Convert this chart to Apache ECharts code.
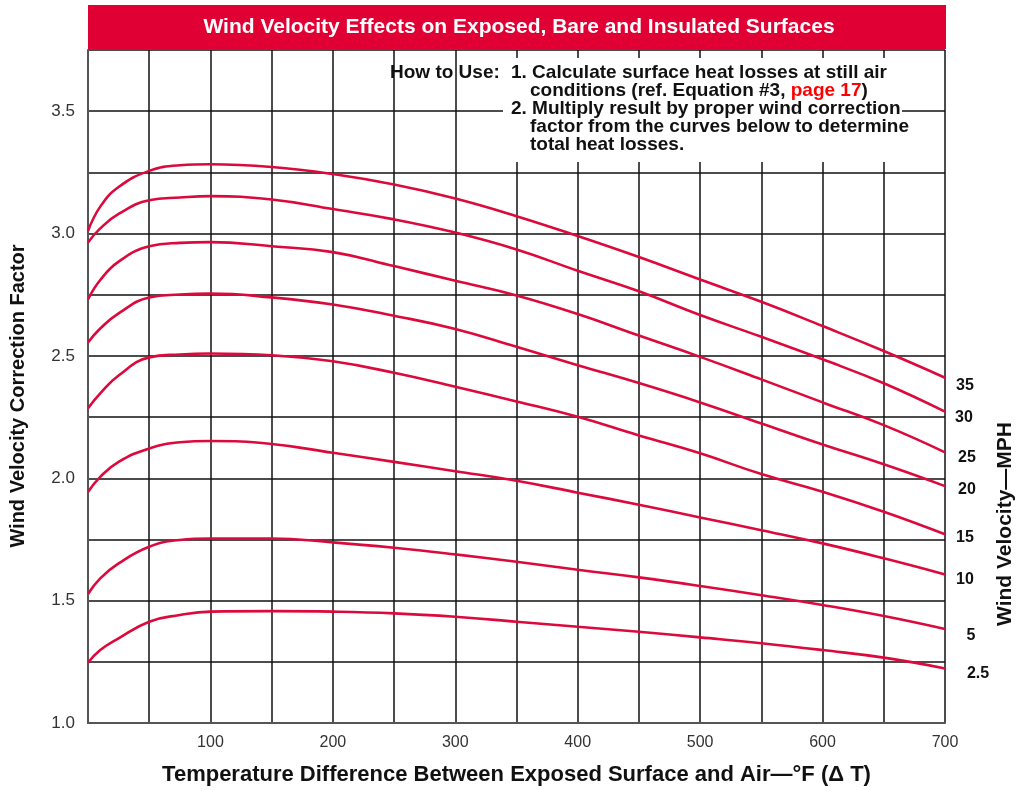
<!DOCTYPE html>
<html>
<head>
<meta charset="utf-8">
<script src="https://cdn.jsdelivr.net/npm/echarts@6/dist/echarts.min.js"></script>
<style>
html,body{margin:0;padding:0;background:#fff;}
#chart{width:1031px;height:791px;}
</style>
</head>
<body>
<div id="chart"></div>
<script>
// Temperature difference (°F) sample points
var deltaT = [0, 10, 25, 50, 75, 100, 150, 200, 250, 300, 350, 400, 450, 500, 550, 600, 650, 700];
// Wind velocity labels (MPH)
var windLabels = ['35', '30', '25', '20', '15', '10', '5', '2.5'];
// Correction factor per wind velocity
var mph35  = [3.01, 3.11, 3.19, 3.256, 3.279, 3.283, 3.272, 3.243, 3.20, 3.143, 3.071, 2.99, 2.904, 2.812, 2.721, 2.622, 2.52, 2.411];
var mph30  = [2.963, 3.021, 3.08, 3.136, 3.147, 3.153, 3.139, 3.10, 3.058, 3.004, 2.935, 2.848, 2.764, 2.667, 2.578, 2.486, 2.388, 2.272];
var mph25  = [2.731, 2.81, 2.885, 2.948, 2.962, 2.965, 2.948, 2.924, 2.867, 2.807, 2.747, 2.671, 2.583, 2.496, 2.404, 2.31, 2.217, 2.106];
var mph20  = [2.555, 2.612, 2.674, 2.739, 2.751, 2.755, 2.739, 2.71, 2.664, 2.61, 2.537, 2.462, 2.389, 2.31, 2.224, 2.138, 2.057, 1.968];
var mph15  = [2.286, 2.347, 2.42, 2.494, 2.506, 2.51, 2.503, 2.478, 2.431, 2.374, 2.314, 2.251, 2.175, 2.102, 2.017, 1.945, 1.863, 1.771];
var mph10  = [1.944, 2.006, 2.067, 2.122, 2.147, 2.152, 2.14, 2.104, 2.067, 2.029, 1.99, 1.941, 1.892, 1.84, 1.788, 1.734, 1.673, 1.607];
var mph5   = [1.527, 1.591, 1.652, 1.72, 1.748, 1.754, 1.754, 1.738, 1.716, 1.689, 1.659, 1.626, 1.595, 1.56, 1.522, 1.482, 1.437, 1.384];
var mph2_5 = [1.246, 1.298, 1.346, 1.414, 1.441, 1.455, 1.457, 1.455, 1.448, 1.434, 1.414, 1.393, 1.373, 1.35, 1.326, 1.298, 1.267, 1.223];
var seriesValues = [mph35, mph30, mph25, mph20, mph15, mph10, mph5, mph2_5];
// label offsets [dx, dy] from each curve end (style)
var labelOffsets = [[20, 8], [19, 6], [22, 5], [22, 3], [20, 3], [20, 5], [26, 7], [33, 5]];

var chart = echarts.init(document.getElementById('chart'), null, {renderer: 'canvas'});
var FONT = '"Liberation Sans", Arial, Helvetica, sans-serif';
var RED = '#dc0a3c';
var BOX = 'bold 19px ' + FONT;

var series = seriesValues.map(function (vals, i) {
  return {
    type: 'line',
    name: windLabels[i],
    data: deltaT.map(function (x, j) { return [x, vals[j]]; }),
    smooth: 0.45,
    symbol: 'none',
    lineStyle: {color: RED, width: 2.6},
    z: 5,
    endLabel: {
      show: true,
      formatter: windLabels[i],
      color: '#111',
      fontFamily: FONT,
      fontWeight: 'bold',
      fontSize: 16,
      align: 'center',
      verticalAlign: 'middle',
      distance: 0,
      offset: labelOffsets[i]
    }
  };
});

var option = {
  animation: false,
  backgroundColor: '#fff',
  grid: {left: 88, right: 86, top: 50, bottom: 66},
  xAxis: {
    type: 'value', min: 0, max: 700, interval: 50,
    name: 'Temperature Difference Between Exposed Surface and Air\u2014\u00B0F (\u0394 T)',
    nameLocation: 'middle', nameGap: 41,
    nameTextStyle: {fontFamily: FONT, fontWeight: 'bold', fontSize: 22, color: '#111'},
    axisLine: {show: true, lineStyle: {color: '#555', width: 2}},
    axisTick: {show: false},
    axisLabel: {
      margin: 12, color: '#333', fontFamily: FONT, fontSize: 16,
      formatter: function (v) { return (v > 0 && v % 100 === 0) ? String(v) : ''; }
    },
    splitLine: {show: true, lineStyle: {color: '#111', width: 1.5}}
  },
  yAxis: {
    type: 'value', min: 1, max: 3.75, interval: 0.25,
    axisLine: {show: true, lineStyle: {color: '#555', width: 2}},
    axisTick: {show: false},
    axisLabel: {
      margin: 13, color: '#333', fontFamily: FONT, fontSize: 17,
      formatter: function (v) { return (Math.abs(v * 2 - Math.round(v * 2)) < 1e-6 && v < 3.7) ? v.toFixed(1) : ''; }
    },
    splitLine: {show: true, lineStyle: {color: '#111', width: 1.5}}
  },
  graphic: [
    {type: 'rect', z: 100, shape: {x: 88, y: 5, width: 858, height: 44}, style: {fill: '#e00034'}},
    {type: 'text', z: 101, x: 519, y: 27, style: {
      text: 'Wind Velocity Effects on Exposed, Bare and Insulated Surfaces',
      fill: '#fff', font: 'bold 21px ' + FONT, textAlign: 'center', textVerticalAlign: 'middle'}},
    {type: 'rect', z: 100, shape: {x: 503, y: 58, width: 399, height: 104}, style: {fill: '#fff'}},
    {type: 'text', z: 101, x: 390, y: 73, style: {
      text: 'How to Use:', fill: '#111', font: BOX, textVerticalAlign: 'middle'}},
    {type: 'text', z: 101, x: 511, y: 73, style: {
      text: '1. Calculate surface heat losses at still air', fill: '#111', font: BOX, textVerticalAlign: 'middle'}},
    {type: 'text', z: 101, x: 530, y: 91, style: {
      text: '{b|conditions (ref. Equation #3, }{r|page 17}{b|)}',
      rich: {
        b: {fill: '#111', fontFamily: FONT, fontWeight: 'bold', fontSize: 19},
        r: {fill: '#ff0000', fontFamily: FONT, fontWeight: 'bold', fontSize: 19}
      },
      textVerticalAlign: 'middle'}},
    {type: 'text', z: 101, x: 511, y: 109, style: {
      text: '2. Multiply result by proper wind correction', fill: '#111', font: BOX, textVerticalAlign: 'middle'}},
    {type: 'text', z: 101, x: 530, y: 127, style: {
      text: 'factor from the curves below to determine', fill: '#111', font: BOX, textVerticalAlign: 'middle'}},
    {type: 'text', z: 101, x: 530, y: 145, style: {
      text: 'total heat losses.', fill: '#111', font: BOX, textVerticalAlign: 'middle'}},
    {type: 'text', z: 101, x: 18, y: 396, rotation: Math.PI / 2, style: {
      text: 'Wind Velocity Correction Factor', fill: '#111', font: 'bold 20px ' + FONT,
      textAlign: 'center', textVerticalAlign: 'middle'}},
    {type: 'text', z: 101, x: 1005, y: 524, rotation: Math.PI / 2, style: {
      text: 'Wind Velocity\u2014MPH', fill: '#111', font: 'bold 21px ' + FONT,
      textAlign: 'center', textVerticalAlign: 'middle'}}
  ],
  series: series
};
chart.setOption(option);
</script>
</body>
</html>
